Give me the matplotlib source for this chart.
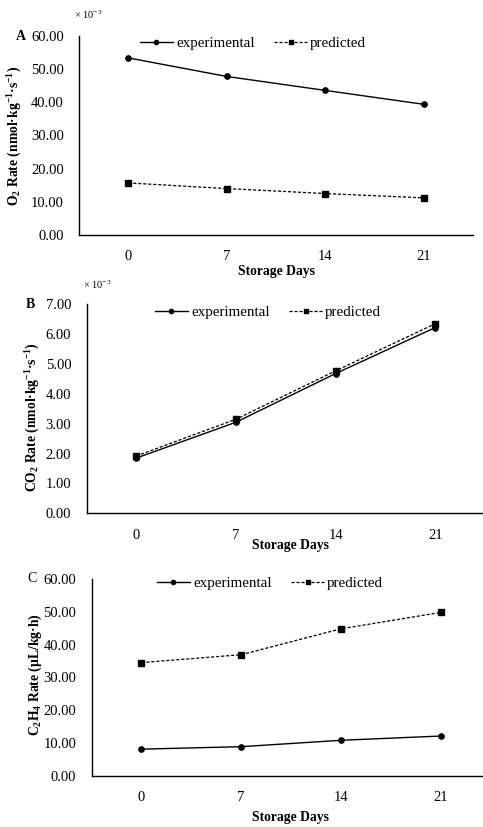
import matplotlib
matplotlib.use("Agg")
import matplotlib.pyplot as plt

plt.rcParams['font.family'] = ['Liberation Serif', 'DejaVu Serif']
plt.rcParams['mathtext.fontset'] = 'custom'
plt.rcParams['mathtext.rm'] = 'Liberation Serif'
plt.rcParams['mathtext.it'] = 'Liberation Serif:italic'
plt.rcParams['mathtext.bf'] = 'Liberation Serif:bold'

days = ["0", "7", "14", "21"]

o2_experimental = [53.4, 47.8, 43.6, 39.4]
o2_predicted = [15.7, 14.0, 12.5, 11.2]

co2_experimental = [1.85, 3.05, 4.68, 6.22]
co2_predicted = [1.92, 3.15, 4.77, 6.35]

c2h4_experimental = [8.1, 8.85, 10.8, 12.1]
c2h4_predicted = [34.5, 36.9, 44.8, 49.8]

W, H = 483, 827
fig = plt.figure(figsize=(W / 100, H / 100), dpi=100)

panels = [
    dict(rect=(79, 36, 473, 235), exp=o2_experimental, pred=o2_predicted,
         ylim=60, step=10,
         ylabel=r"O$_\mathbf{2}$ Rate (nmol·kg$^{\mathbf{-1}}$·s$^{\mathbf{-1}}$)",
         ylab_xy=(15, 136), xlab_xy=(277, 272), letter="A", letter_xy=(21, 36),
         letter_bold=True, sci_xy=(88, 15), leg_xy=(253, 43)),
    dict(rect=(86.5, 304.3, 485, 513.3), exp=co2_experimental, pred=co2_predicted,
         ylim=7, step=1,
         ylabel=r"CO$_\mathbf{2}$ Rate (nmol·kg$^{\mathbf{-1}}$·s$^{\mathbf{-1}}$)",
         ylab_xy=(33, 417), xlab_xy=(290, 545), letter="B", letter_xy=(30, 304),
         letter_bold=True, sci_xy=(97, 285), leg_xy=(268, 312)),
    dict(rect=(91.5, 579, 490.5, 775.7), exp=c2h4_experimental, pred=c2h4_predicted,
         ylim=60, step=10,
         ylabel=r"C$_\mathbf{2}$H$_\mathbf{4}$ Rate (µL/kg·h)",
         ylab_xy=(35, 675), xlab_xy=(290, 817), letter="C", letter_xy=(31.7, 579),
         letter_bold=False, sci_xy=None, leg_xy=(270, 583)),
]

tick_fs = 10.5
lab_fs = 9.8
leg_fs = 10.8
for p in panels:
    l, t, r, b = p["rect"]
    ax = fig.add_axes([l / W, 1 - b / H, (r - l) / W, (b - t) / H])
    x = list(range(len(days)))
    ax.plot(x, p["exp"], color="black", lw=1.0, marker="o", ms=3.8,
            label="experimental")
    ax.plot(x, p["pred"], color="black", lw=0.9, ls=(0, (2.5, 1.5)), marker="s",
            ms=3.8, label="predicted")
    ax.set_xlim(-0.5, 3.5)
    ax.set_ylim(0, p["ylim"])
    n = int(round(p["ylim"] / p["step"]))
    yt = [i * p["step"] for i in range(n + 1)]
    ax.set_yticks(yt)
    ax.set_yticklabels([f"{v:.2f}" for v in yt], fontsize=tick_fs)
    ax.set_xticks(x)
    ax.set_xticklabels(days, fontsize=tick_fs)
    ax.tick_params(length=0)
    ax.tick_params(axis="y", pad=11)
    ax.tick_params(axis="x", pad=11)
    for s in ["top", "right"]:
        ax.spines[s].set_visible(False)
    for s in ["left", "bottom"]:
        ax.spines[s].set_linewidth(1.0)
        ax.spines[s].set_color("black")
    fig.text(p["ylab_xy"][0] / W, 1 - p["ylab_xy"][1] / H, p["ylabel"],
             rotation=90, ha="center", va="center", fontsize=lab_fs,
             fontweight="bold")
    fig.text(p["xlab_xy"][0] / W, 1 - p["xlab_xy"][1] / H, "Storage Days",
             ha="center", va="center", fontsize=lab_fs, fontweight="bold")
    fig.text(p["letter_xy"][0] / W, 1 - p["letter_xy"][1] / H, p["letter"],
             ha="center", va="center", fontsize=10,
             fontweight="bold" if p["letter_bold"] else "normal")
    if p["sci_xy"] is not None:
        fig.text(p["sci_xy"][0] / W, 1 - p["sci_xy"][1] / H, r"× 10$^{-3}$",
                 ha="center", va="center", fontsize=7.5)
    ax.legend(loc="center", bbox_to_anchor=(p["leg_xy"][0] / W, 1 - p["leg_xy"][1] / H),
              bbox_transform=fig.transFigure, ncol=2, frameon=False, fontsize=leg_fs,
              handlelength=2.2, handletextpad=0.2, columnspacing=1.3,
              markerscale=0.8, borderpad=0, borderaxespad=0)

fig.savefig("out.png", dpi=100)
